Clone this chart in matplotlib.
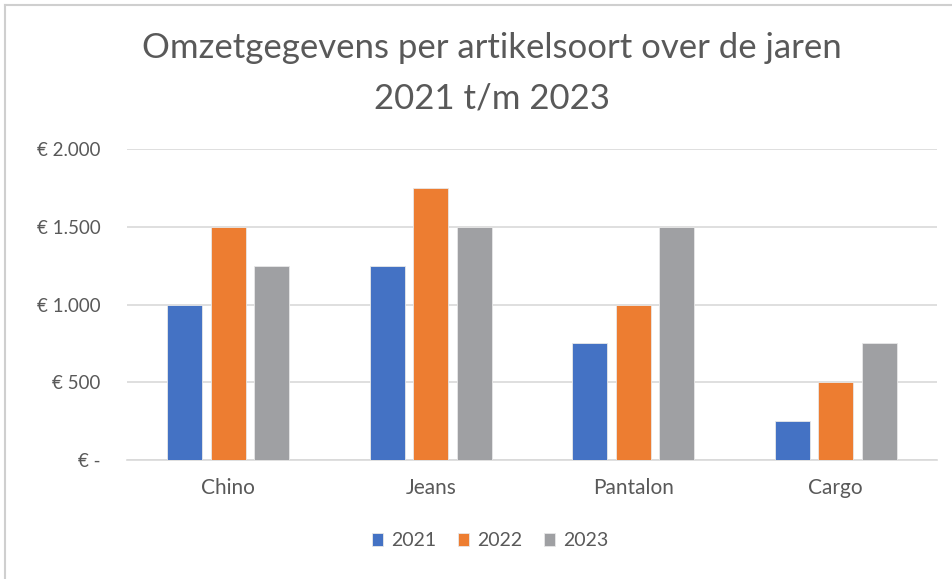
import numpy as np
import matplotlib.pyplot as plt
from matplotlib.lines import Line2D

# Data
categories = ["Chino", "Jeans", "Pantalon", "Cargo"]
years = ["2021", "2022", "2023"]
omzet_2021 = [1000, 1250, 750, 250]
omzet_2022 = [1500, 1750, 1000, 500]
omzet_2023 = [1250, 1500, 1500, 750]
y_ticks = [0, 500, 1000, 1500, 2000]
y_labels = ["€ -", "€ 500", "€ 1.000", "€ 1.500", "€ 2.000"]

colors = ["#4472C4", "#ED7D31", "#9FA0A3"]
text_color = "#595959"

plt.rcParams['font.family'] = ['Lato', 'DejaVu Sans']

fig = plt.figure(figsize=(9.53, 5.79), dpi=100)
W, H = 953, 579
ax = fig.add_axes([127 / W, 1 - 460 / H, (937 - 127) / W, (460 - 149) / H])

x = np.arange(len(categories))
step = 0.214
width = 0.173
series = [omzet_2021, omzet_2022, omzet_2023]
for i, (vals, lab) in enumerate(zip(series, years)):
    ax.bar(x + (i - 1) * step, vals, width, color=colors[i], label=lab,
           edgecolor="#E8E8E8", linewidth=0.6, zorder=3)

ax.set_xlim(-0.5, len(categories) - 0.5)
ax.set_ylim(0, 2000)
ax.set_yticks(y_ticks)
ax.set_yticklabels(y_labels, color=text_color, fontsize=13.5)
ax.set_xticks(x)
ax.set_xticklabels(categories, color=text_color, fontsize=15)
ax.tick_params(axis="both", length=0)
ax.tick_params(axis="y", pad=19)
ax.tick_params(axis="x", pad=13)
ax.grid(axis="y", color="#D9D9D9", linewidth=1.2, zorder=0)
for s in ["top", "right", "left"]:
    ax.spines[s].set_visible(False)
ax.spines["bottom"].set_color("#D9D9D9")
ax.spines["bottom"].set_linewidth(1.2)

fig.text(492 / W, 1 - 48 / H, "Omzetgegevens per artikelsoort over de jaren",
         ha="center", va="center", fontsize=25, color=text_color)
fig.text(492 / W, 1 - 98 / H, "2021 t/m 2023",
         ha="center", va="center", fontsize=25, color=text_color)

fig.legend(loc="center", bbox_to_anchor=(490 / W, 1 - 541 / H), ncol=3,
           frameon=False, fontsize=14, handlelength=0.6, handleheight=0.6,
           handletextpad=0.4, columnspacing=1.1, labelcolor=text_color)

# frame lines of the screenshot (left and top only)
fig.add_artist(Line2D([5 / W, 5 / W], [0, 1 - 5 / H], transform=fig.transFigure,
                      color="#CFCFCF", linewidth=1.5))
fig.add_artist(Line2D([5 / W, 1], [1 - 5 / H, 1 - 5 / H], transform=fig.transFigure,
                      color="#CFCFCF", linewidth=1.5))

fig.savefig("out.png", dpi=100)
